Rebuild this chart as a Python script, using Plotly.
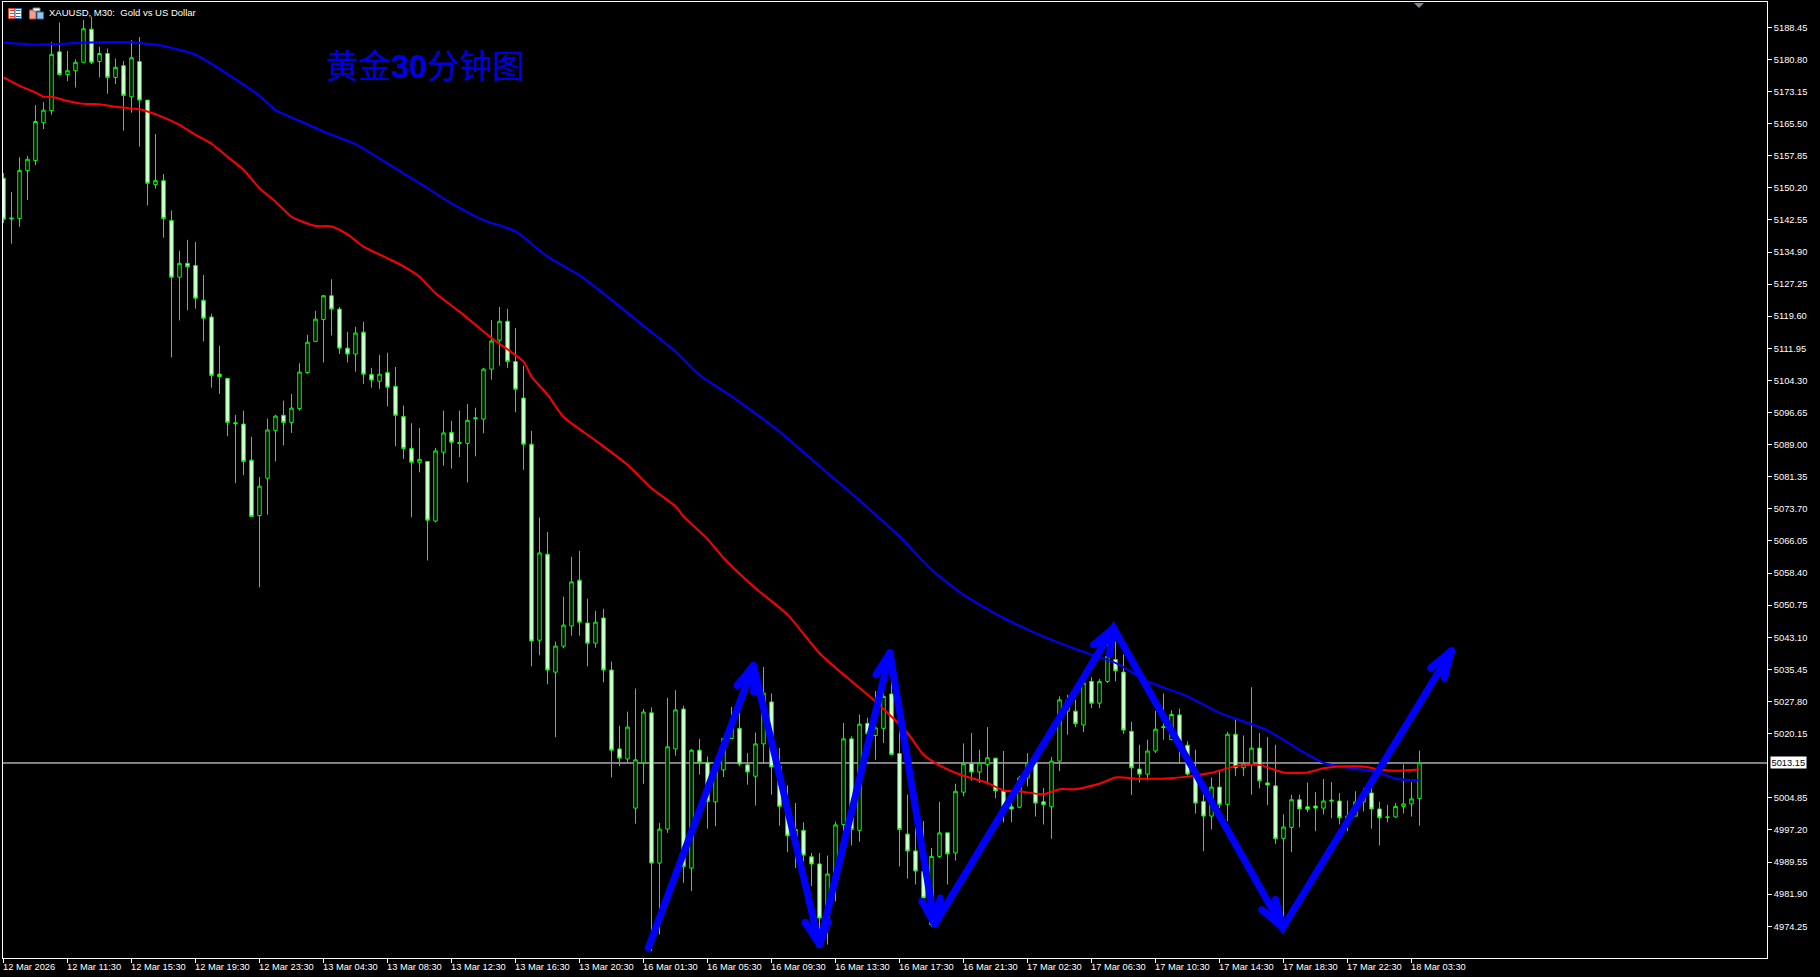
import plotly.graph_objects as go

# ---------- candle data (XAUUSD M30) ----------
opens = [5152.5,5143.0,5142.9,5154.3,5156.7,5165.7,5168.6,5182.6,5177.2,5178.1,
5180.1,5188.0,5180.3,5182.2,5176.5,5179.3,5171.9,5180.3,5171.1,5151.0,
5151.9,5142.4,5128.9,5132.2,5131.7,5123.4,5119.4,5105.8,5104.8,5094.2,
5093.9,5085.3,5072.1,5081.0,5092.4,5096.0,5094.3,5097.6,5106.2,5113.6,
5118.8,5124.5,5121.3,5112.0,5110.6,5115.8,5105.7,5104.1,5106.2,5102.9,
5095.7,5088.1,5084.8,5085.0,5070.8,5087.2,5091.9,5089.5,5089.3,5095.4,
5095.1,5107.0,5113.9,5118.4,5108.8,5100.1,5089.1,5042.4,5062.9,5034.8,
5041.0,5045.8,5056.7,5046.5,5041.7,5047.7,5035.3,5016.5,5014.1,5002.4,
5013.2,5025.1,4989.3,4997.4,5016.5,5026.0,4988.1,5016.2,5013.3,5003.9,
5011.5,5019.0,5021.4,5012.7,5010.0,5017.7,5027.7,5012.4,5002.8,4995.7,
4997.1,4990.8,4989.1,4975.0,4986.7,4998.5,5018.9,4997.1,5022.6,5019.7,
5021.4,5029.6,5015.4,4996.2,4992.2,4987.3,4974.6,4990.9,4996.5,4991.7,
5006.2,5013.0,5011.0,5012.8,5014.3,5006.5,5002.7,5002.6,5009.6,5013.2,
5003.9,5002.7,5013.6,5025.5,5025.5,5022.2,5032.6,5027.4,5032.6,5037.8,
5034.8,5020.7,5011.7,5010.5,5016.0,5021.8,5018.7,5024.6,5017.4,5010.0,
5004.0,5000.5,5007.4,5003.3,5020.0,5012.0,5012.8,5016.7,5008.4,5007.7,
4995.2,4997.8,5004.4,5002.7,5002.9,5002.4,5004.3,5004.1,4999.7,5000.5,
5003.9,5006.0,5002.2,5000.3,5000.3,5002.8,5003.4,5004.7]
highs = [5153.7,5149.2,5157.5,5157.8,5169.9,5170.6,5184.9,5189.6,5182.8,5180.8,
5190.2,5191.0,5183.8,5183.4,5181.0,5180.4,5185.4,5186.1,5171.1,5163.0,
5153.5,5144.8,5135.2,5137.8,5137.3,5129.4,5120.2,5112.6,5104.8,5096.1,
5097.1,5090.9,5081.3,5095.2,5096.1,5099.5,5101.1,5108.4,5115.2,5120.9,
5124.5,5128.4,5121.8,5115.9,5117.1,5118.3,5107.3,5110.4,5110.9,5107.5,
5098.3,5094.1,5093.0,5085.0,5088.2,5097.1,5094.7,5097.1,5098.7,5097.8,
5107.3,5118.7,5121.8,5121.4,5116.8,5107.8,5092.3,5071.6,5068.2,5042.1,
5052.8,5062.3,5063.7,5052.3,5049.4,5049.9,5037.3,5022.0,5025.4,5030.9,
5026.0,5026.4,4998.9,5028.7,5030.5,5026.8,5016.5,5018.9,5014.7,5012.4,
5019.0,5026.5,5025.1,5015.5,5020.4,5036.0,5029.7,5016.7,5007.8,5003.6,
4999.0,4991.7,4991.7,4991.1,4999.2,5022.7,5019.5,5024.7,5023.9,5030.3,
5033.0,5033.0,5021.9,5005.6,4997.7,4999.3,4992.9,5003.9,4996.5,5008.2,
5017.8,5020.3,5016.3,5021.7,5014.3,5016.0,5005.2,5010.1,5015.5,5013.2,
5007.2,5014.6,5029.0,5029.4,5028.2,5033.0,5033.6,5033.2,5041.7,5042.1,
5039.0,5023.0,5017.5,5018.7,5025.6,5029.7,5025.7,5026.1,5018.3,5016.3,
5005.6,5009.7,5011.2,5020.6,5023.5,5019.7,5031.2,5020.3,5019.3,5017.5,
5000.9,5005.6,5005.6,5008.5,5006.2,5009.3,5008.6,5006.0,5004.2,5006.4,
5007.2,5010.0,5003.9,5003.2,5003.6,5012.8,5008.6,5016.1]
lows = [5141.8,5136.9,5140.9,5147.3,5155.6,5164.2,5167.6,5176.9,5175.6,5174.1,
5180.1,5179.7,5176.5,5172.6,5174.9,5163.8,5168.1,5160.0,5146.0,5150.0,
5138.3,5109.8,5118.6,5121.0,5121.4,5113.6,5102.6,5101.1,5091.0,5079.8,
5081.7,5071.9,5055.0,5072.3,5085.0,5088.8,5091.8,5097.1,5105.9,5113.6,
5108.6,5115.0,5110.6,5108.6,5106.4,5103.5,5102.6,5102.3,5098.1,5088.6,
5085.6,5071.7,5082.4,5061.4,5070.5,5084.0,5083.3,5086.0,5080.0,5086.2,
5091.7,5104.5,5107.8,5107.3,5096.7,5083.0,5036.2,5038.8,5031.9,5019.3,
5040.5,5043.5,5043.5,5036.2,5040.6,5032.4,5009.7,5012.4,5013.2,4998.7,
5008.2,4968.3,4972.3,4996.5,5014.9,4984.6,4982.6,5010.4,4997.5,4998.1,
5009.8,5019.0,5012.4,5008.0,5003.0,5013.0,5005.6,4998.2,4991.9,4988.1,
4989.7,4983.8,4972.7,4969.9,4980.2,4996.9,4993.5,4994.4,5018.7,5013.9,
5017.9,5015.0,4988.5,4985.6,4984.2,4980.6,4974.1,4990.5,4984.2,4989.9,
5005.2,5009.0,5008.4,5008.0,5004.7,4999.0,4999.0,5002.4,5007.6,5000.4,
4998.5,4995.1,5011.2,5019.9,5021.7,5020.5,5026.2,5026.2,5032.2,5032.6,
5020.1,5005.5,5008.5,5009.0,5015.5,5018.7,5018.6,5012.9,5010.2,5001.1,
4992.1,4997.3,5002.4,4999.3,5010.0,5010.0,5005.6,5007.1,5003.1,4993.9,
4976.6,4991.9,4997.8,5001.4,4996.9,5000.9,5000.0,4998.5,4996.9,5000.5,
5001.6,4997.5,4993.5,4999.0,5000.1,5001.1,5000.4,4998.2]
closes = [5142.7,5142.8,5154.3,5157.0,5166.0,5168.7,5182.0,5177.2,5178.1,5180.1,
5188.1,5180.1,5182.2,5176.5,5178.9,5172.2,5181.2,5171.1,5151.3,5151.9,
5142.9,5128.9,5132.2,5131.4,5123.9,5119.1,5105.5,5105.2,5094.3,5094.0,
5085.0,5071.9,5079.1,5092.5,5095.8,5094.3,5097.7,5106.3,5113.4,5118.9,
5124.5,5121.3,5112.0,5110.6,5115.6,5105.8,5104.4,5105.8,5102.7,5096.0,
5088.1,5084.8,5085.5,5071.0,5087.5,5091.8,5089.6,5089.3,5094.8,5095.2,
5107.0,5113.7,5118.4,5108.8,5102.2,5089.1,5042.2,5063.2,5035.3,5041.0,
5046.0,5056.3,5046.7,5041.7,5046.7,5035.3,5016.2,5014.3,5021.7,5013.9,
5025.3,4989.3,4997.4,5017.0,5025.8,4988.5,5016.2,5013.3,5004.0,5011.2,
5019.0,5021.4,5012.9,5011.0,5017.7,5029.8,5012.2,5002.8,4995.8,4997.3,
4991.2,4989.1,4976.2,4986.7,4998.4,5018.9,4997.3,5022.4,5020.1,5021.5,
5029.0,5015.2,4997.3,4992.2,4987.4,4981.0,4990.9,4996.5,4991.5,5006.4,
5013.0,5011.0,5013.2,5014.4,5006.5,5002.8,5002.2,5009.6,5013.2,5003.6,
5003.2,5013.6,5028.2,5028.0,5022.5,5032.2,5027.4,5032.6,5038.6,5035.1,
5021.0,5012.0,5010.5,5016.0,5021.2,5021.6,5024.7,5018.3,5010.5,5003.6,
5000.5,5007.4,5003.3,5020.0,5012.0,5013.0,5016.7,5008.9,5007.9,4995.1,
4997.9,5004.4,5002.2,5002.1,5002.4,5004.1,5004.1,5000.1,5000.5,5003.9,
5006.0,5002.2,5000.1,5000.2,5002.8,5003.4,5004.6,5013.2]

# ---------- moving averages, read at selected bars ----------
blue_bar = [0,4,8,12,16,18,20,24,28,32,34,36,40,44,48,52,56,60,64,68,72,76,80,84,87,91,97,101,105,112,116,120,125,129,134,139,143,148,152,158,162,165,168,172,174,177]
blue_val = [5184.8,5184.3,5184.6,5184.9,5184.9,5184.5,5184.0,5181.9,5177.3,5172.1,5168.7,5167.0,5163.6,5160.6,5156.0,5151.3,5146.5,5142.5,5139.8,5133.8,5129.4,5123.5,5117.3,5111.2,5105.6,5100.5,5092.1,5085.5,5079.0,5067.1,5059.2,5053.2,5047.7,5044.1,5040.3,5037.0,5032.6,5029.0,5025.1,5020.9,5016.3,5013.2,5012.0,5010.8,5009.4,5009.0]
red_bar = [0,2,4,5,6,8,10,12,14,16,17,18,20,22,24,26,28,30,32,34,36,37,39,41,43,45,48,50,52,54,57,61,65,66,68,70,74,78,81,84,85,88,90,94,98,102,106,109,113,115,117,120,123,125,127,130,132,134,137,139,142,146,149,151,154,157,158,160,163,165,167,170,172,174,177]
red_val = [5176.5,5174.5,5172.9,5171.9,5171.9,5170.9,5170.2,5170.1,5169.5,5169.1,5168.9,5168.4,5167.0,5165.2,5162.8,5160.7,5157.6,5154.5,5150.1,5146.9,5143.3,5142.4,5141.1,5141.0,5139.1,5136.2,5133.4,5131.5,5129.0,5125.1,5120.7,5114.4,5108.8,5105.2,5100.9,5095.6,5090.0,5084.2,5078.6,5074.3,5071.9,5066.5,5062.0,5054.8,5048.5,5039.3,5032.6,5027.8,5020.3,5015.1,5012.6,5010.1,5008.4,5006.6,5006.4,5005.7,5006.9,5006.9,5008.2,5009.7,5009.4,5009.5,5010.2,5010.8,5012.4,5012.7,5012.1,5010.9,5010.9,5011.9,5012.3,5012.3,5011.6,5011.3,5011.6]

# ---------- hand-drawn arrows (bar, price) ----------
zig_bar = [80.6,93.75,102.0,110.8,116.4,138.75,159.9,181.0]
zig_val = [4969.1,5036.4,4969.9,5039.4,4974.7,5045.3,4973.9,5039.9]
barb_a_bar = [91.7,100.2,109.05,114.8,136.25,157.3,178.4]
barb_a_val = [5031.6,4975.2,5034.2,4980.2,5041.3,4978.2,5035.8]
barb_b_bar = [93.8,103.1,111.2,117.1,138.25,159.0,180.1]
barb_b_val = [5030.0,4975.4,5033.8,4981.0,5039.0,4980.6,5033.4]

# ---------- axes ----------
time_labels = ["12 Mar 2026","12 Mar 11:30","12 Mar 15:30","12 Mar 19:30","12 Mar 23:30",
"13 Mar 04:30","13 Mar 08:30","13 Mar 12:30","13 Mar 16:30","13 Mar 20:30",
"16 Mar 01:30","16 Mar 05:30","16 Mar 09:30","16 Mar 13:30","16 Mar 17:30","16 Mar 21:30",
"17 Mar 02:30","17 Mar 06:30","17 Mar 10:30","17 Mar 14:30","17 Mar 18:30","17 Mar 22:30","18 Mar 03:30"]
price_ticks = [5188.45,5180.80,5173.15,5165.50,5157.85,5150.20,5142.55,5134.90,5127.25,5119.60,
5111.95,5104.30,5096.65,5089.00,5081.35,5073.70,5066.05,5058.40,5050.75,5043.10,5035.45,
5027.80,5020.15,5004.85,4997.20,4989.55,4981.90,4974.25]
last_price = 5013.15
chart_title = "XAUUSD, M30:  Gold vs US Dollar"
big_title = "黄金<b>30</b>分钟图"

W, H = 1820, 977
L, R, T, B = 3, 1767, 2, 958.5
FONT = "Liberation Sans"
FS = 9.3
GREEN = "#00ff00"
BLUE = "#0000ff"
bars = list(range(len(opens)))

def px(x): return (x - L) / (R - L)
def py(y): return (B - y) / (B - T)
def rect(x0, y0, x1, y1, fill, line=None):
    return dict(type="rect", xref="paper", yref="paper", x0=px(x0), x1=px(x1), y0=py(y0), y1=py(y1),
                fillcolor=fill, line=dict(width=1 if line else 0, color=line or fill), layer="above")

fig = go.Figure()
fig.add_trace(go.Candlestick(
    x=bars, open=opens, high=highs, low=lows, close=closes, whiskerwidth=0,
    increasing=dict(line=dict(color=GREEN, width=1), fillcolor="#000000"),
    decreasing=dict(line=dict(color=GREEN, width=1), fillcolor="#ffffff"),
    showlegend=False, hoverinfo="skip"))
fig.add_trace(go.Scatter(x=blue_bar, y=blue_val, mode="lines",
                         line=dict(color=BLUE, width=2, shape="spline", smoothing=0.6), hoverinfo="skip"))
fig.add_trace(go.Scatter(x=red_bar, y=red_val, mode="lines",
                         line=dict(color="#ff0000", width=2, shape="spline", smoothing=0.6), hoverinfo="skip"))
fig.add_trace(go.Scatter(x=zig_bar, y=zig_val, mode="lines+markers",
                         line=dict(color=BLUE, width=7), marker=dict(color=BLUE, size=7, line=dict(width=0)),
                         hoverinfo="skip"))
hx, hy = [], []
for i in range(len(barb_a_bar)):
    hx += [barb_a_bar[i], zig_bar[i + 1], barb_b_bar[i], None]
    hy += [barb_a_val[i], zig_val[i + 1], barb_b_val[i], None]
fig.add_trace(go.Scatter(x=hx, y=hy, mode="lines+markers",
                         line=dict(color=BLUE, width=7), marker=dict(color=BLUE, size=7, line=dict(width=0)),
                         hoverinfo="skip"))

shapes = [
    dict(type="line", xref="paper", x0=0, x1=1, yref="y", y0=last_price, y1=last_price,
         line=dict(color="#ffffff", width=1), layer="below"),
    # last-bar marker at the top edge
    dict(type="path", xref="paper", yref="paper", layer="above", fillcolor="#7f8a96", line=dict(width=0),
         path=f"M {px(1414)} {py(3)} L {px(1424)} {py(3)} L {px(1419)} {py(8)} Z"),
    # toolbar icons
    rect(8.5, 8.5, 15, 18.5, "#ffffff", "#e03b24"), rect(15, 8.5, 21.5, 18.5, "#ffffff", "#1f6fb5"),
    rect(10, 10, 14.5, 11, "#e03b24"), rect(10, 13, 14.5, 14, "#e03b24"), rect(10, 16, 14.5, 17, "#e03b24"),
    rect(16, 10, 20.5, 11, "#1f6fb5"), rect(16, 13, 20.5, 14, "#1f6fb5"), rect(16, 16, 20.5, 17, "#1f6fb5"),
    rect(29.5, 10, 36, 19, "#f0a090", "#e03b24"), rect(37, 12, 43.5, 19, "#8cc8f0", "#1f6fb5"),
    rect(33, 8, 40, 11, "#ffffff", "#808080"),
]

ann = [dict(x=i * 8, xref="x", y=0, yref="paper", xshift=-2, yshift=-9.2, text=t, showarrow=False,
            xanchor="left", yanchor="middle", borderpad=0, font=dict(family=FONT, size=FS, color="#ffffff"))
       for i, t in enumerate(time_labels)]
ann.append(dict(x=1, xref="paper", y=last_price, yref="y", xshift=3, text=f"{last_price:.2f}", showarrow=False,
                xanchor="left", yanchor="middle", bgcolor="#ffffff", borderpad=0.5,
                font=dict(family=FONT, size=FS, color="#000000")))
ann.append(dict(x=px(48), xref="paper", y=py(13), yref="paper", text=chart_title, showarrow=False,
                xanchor="left", yanchor="middle", borderpad=0, font=dict(family=FONT, size=9.5, color="#ffffff")))
ann.append(dict(x=40.2, xref="x", y=5179.0, yref="y", text=big_title, showarrow=False,
                xanchor="left", yanchor="middle", borderpad=0,
                font=dict(family="Liberation Sans, Noto Sans CJK SC", size=32.5, color="#0000e8")))

fig.update_layout(
    width=W, height=H, paper_bgcolor="#000000", plot_bgcolor="#000000", showlegend=False,
    margin=dict(l=L, r=W - R, t=T, b=H - B, pad=0), hovermode=False, boxgap=0.38,
    shapes=shapes, annotations=ann,
    xaxis=dict(range=[(L - 3.5) / 8, (R - 3.5) / 8], rangeslider=dict(visible=False), showgrid=False, zeroline=False,
               tickvals=[i * 8 for i in range(len(time_labels))], showticklabels=False,
               ticks="outside", ticklen=4, tickcolor="#ffffff", tickwidth=1,
               showline=True, linecolor="#ffffff", linewidth=1, mirror=True),
    yaxis=dict(range=[5194.95 - 0.23815 * B, 5194.95 - 0.23815 * T], side="right", showgrid=False, zeroline=False,
               tickvals=price_ticks, ticktext=[f"{v:.2f}" for v in price_ticks],
               ticks="outside", ticklen=4, tickcolor="#ffffff", tickwidth=1,
               tickfont=dict(family=FONT, size=FS, color="#ffffff"),
               showline=True, linecolor="#ffffff", linewidth=1, mirror=True),
)
fig.write_html("out.html", config=dict(displayModeBar=False),
               post_script="document.body.style.margin='0';document.body.style.background='#000';document.body.style.overflow='hidden';")
